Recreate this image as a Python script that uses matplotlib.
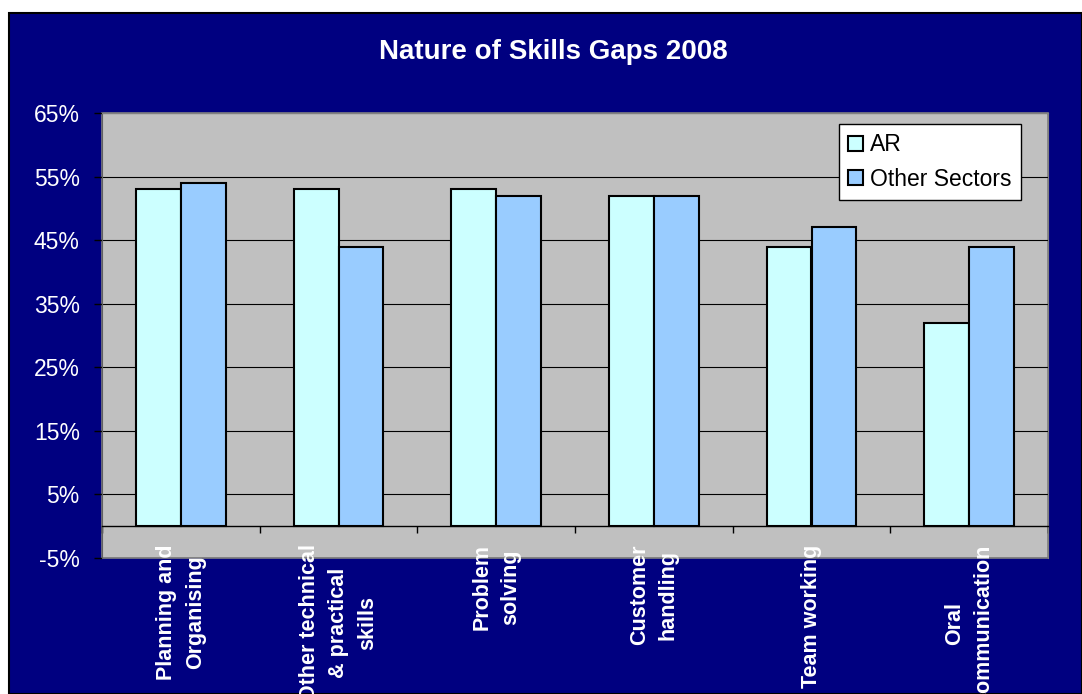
import matplotlib.pyplot as plt
import numpy as np
from matplotlib.patches import Rectangle

plt.rcParams["font.family"] = ["Liberation Sans", "DejaVu Sans"]

categories = ["Planning and\nOrganising", "Other technical\n& practical\nskills",
              "Problem\nsolving", "Customer\nhandling", "Team working",
              "Oral\ncommunication"]
ar_values = [53, 53, 53, 52, 44, 32]
other_values = [54, 44, 52, 52, 47, 44]
series_names = ["AR", "Other Sectors"]
y_ticks = [-5, 5, 15, 25, 35, 45, 55, 65]

NAVY = "#000080"
PLOT_BG = "#C0C0C0"
AR_COLOR = "#CCFFFF"
OTHER_COLOR = "#99CCFF"

fig = plt.figure(figsize=(10.82, 6.94), dpi=100, facecolor="white")
# navy chart area with a small white margin top/left
fig.patches.append(Rectangle((9 / 1082, 0), 1 - 9 / 1082, (694 - 13) / 694,
                             transform=fig.transFigure, facecolor=NAVY,
                             edgecolor="black", linewidth=1.5, zorder=-10))

ax = fig.add_axes([102 / 1082, (694 - 558) / 694, 946 / 1082, 445 / 694])
ax.set_facecolor(PLOT_BG)

x = np.arange(len(categories))
w = 0.285
ax.bar(x - w / 2, ar_values, w, color=AR_COLOR, edgecolor="black", linewidth=1.5,
       label=series_names[0], zorder=3)
ax.bar(x + w / 2, other_values, w, color=OTHER_COLOR, edgecolor="black", linewidth=1.5,
       label=series_names[1], zorder=3)

ax.set_xlim(-0.5, len(categories) - 0.5)
ax.set_ylim(-5, 65)
ax.set_yticks(y_ticks)
ax.set_yticklabels([f"{t}%" for t in y_ticks], color="white", fontsize=16.5)
ax.yaxis.grid(True, color="black", linewidth=0.8, zorder=1)
ax.set_axisbelow(True)
ax.tick_params(axis="y", length=6, width=1, color="black", pad=10)

# category axis crosses at zero
ax.spines["bottom"].set_position(("data", 0))
ax.spines["bottom"].set_color("black")
ax.spines["bottom"].set_linewidth(1)
ax.spines["bottom"].set_zorder(4)
ax.set_xticks(np.arange(len(categories) + 1) - 0.5, minor=True)
ax.tick_params(axis="x", which="minor", length=5, width=1, color="black", direction="out")
ax.set_xticks(x)
ax.set_xticklabels(categories, rotation=90, color="white", fontsize=15.5,
                   fontweight="bold", va="top", ha="center", linespacing=1.5)
ax.tick_params(axis="x", which="major", length=0, pad=13)

for s in ["top", "right"]:
    ax.spines[s].set_color("#808080")
ax.spines["left"].set_color("#606060")
ax.add_patch(Rectangle((0, 0), 1, 1, transform=ax.transAxes, fill=False,
                       edgecolor="#808080", linewidth=1.2, clip_on=False, zorder=0.5))

leg = ax.legend(loc="upper right", bbox_to_anchor=(0.971, 0.975), borderaxespad=0,
                fancybox=False, edgecolor="black", framealpha=1, fontsize=16.5,
                handlelength=0.65, handleheight=0.65, handletextpad=0.3,
                labelspacing=0.5, borderpad=0.4)
leg.get_frame().set_linewidth(1)

fig.text(553 / 1082, 1 - 52 / 694, "Nature of Skills Gaps 2008", color="white",
         fontsize=20, fontweight="bold", ha="center", va="center")

fig.savefig("out.png", dpi=100, facecolor=fig.get_facecolor())
